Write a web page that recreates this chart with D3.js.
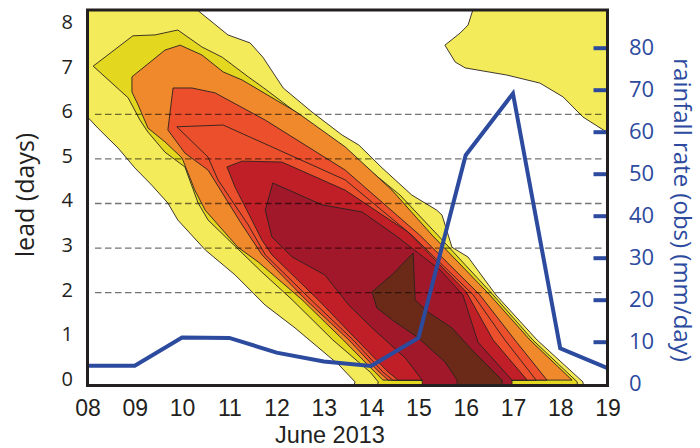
<!DOCTYPE html>
<html>
<head>
<meta charset="utf-8">
<script src="https://cdn.jsdelivr.net/npm/d3@7"></script>
<style>
  html, body { margin: 0; padding: 0; background: #fff; }
  svg { display: block; font-family: "Open Sans", sans-serif; }
</style>
</head>
<body>
<svg id="chart" width="700" height="448"></svg>
<script>
// ---- observed daily rainfall (mm/day) ----
const rainDays = [8, 9, 10, 11, 12, 13, 14, 15, 16, 17, 18, 19];
const rainfall = [4.3, 4.3, 11.0, 10.9, 7.4, 5.3, 4.2, 10.9, 54.4, 69.1, 8.4, 3.7];

// ---- axis ticks ----
const dayTicks  = [8, 9, 10, 11, 12, 13, 14, 15, 16, 17, 18, 19];
const dayLabels = ["08", "09", "10", "11", "12", "13", "14", "15", "16", "17", "18", "19"];
const leadTicks = [0, 1, 2, 3, 4, 5, 6, 7, 8];
const rainTicks = [0, 10, 20, 30, 40, 50, 60, 70, 80];
const gridLeads = [2, 3, 4, 5, 6];

// ---- contour regions of forecast skill, vertices as [day, lead] ----
const level1Band = [
  [7.9, 8.5], [10.3, 8.5], [10.32, 8.34], [10.97, 7.78], [11.44, 7.60], [11.71, 7.28],
  [12.14, 6.59], [12.75, 6.05], [13.38, 5.54], [13.74, 5.31], [14.23, 4.80], [14.86, 4.19],
  [15.39, 3.85], [15.50, 3.74], [15.71, 3.02], [16.05, 2.80], [16.64, 1.95], [17.51, 0.94],
  [18.48, 0.0], [18.5, -0.2], [13.6, -0.2], [13.66, 0.0], [13.32, 0.38], [12.39, 1.21],
  [11.76, 1.72], [11.12, 2.40], [10.49, 2.96], [9.91, 3.63], [9.70, 4.01], [9.36, 4.41],
  [9.00, 4.80], [8.65, 5.24], [8.22, 5.69], [8.0, 5.94], [7.9, 5.94]
];
const level1Corner = [
  [16.2, 8.5], [16.05, 8.00], [15.88, 7.82], [15.56, 7.55], [15.78, 7.17], [15.99, 7.04],
  [16.87, 6.88], [17.57, 6.70], [18.06, 6.39], [18.48, 5.94], [18.91, 5.65], [19.0, 5.60],
  [19.2, 5.55], [19.2, 8.5]
];
const level2 = [
  [8.12, 7.08], [8.96, 7.76], [9.43, 7.78], [9.91, 7.89], [10.42, 7.51], [10.85, 7.28],
  [11.40, 6.84], [11.73, 6.59], [13.13, 5.47], [14.61, 4.19], [15.41, 3.29], [16.58, 1.95],
  [17.42, 0.94], [18.36, 0.0], [18.36, -0.2], [14.11, -0.2], [14.15, 0.0], [13.98, 0.22],
  [13.19, 0.94], [12.33, 1.84], [11.69, 2.46], [11.27, 2.89], [10.55, 3.63], [10.34, 4.01],
  [10.06, 4.82], [9.64, 5.15], [9.28, 5.60], [9.11, 5.87], [8.86, 6.37]
];
const level3 = [
  [8.94, 6.84], [9.64, 7.44], [9.96, 7.55], [10.42, 7.33], [10.87, 6.95], [11.27, 6.77],
  [12.45, 6.03], [13.45, 5.27], [14.44, 4.30], [15.29, 3.29], [16.51, 1.95], [17.36, 0.94],
  [18.25, 0.04], [14.25, 0.04], [14.08, 0.22], [13.41, 0.94], [12.54, 1.84], [11.61, 2.69],
  [11.18, 3.02], [10.49, 3.85], [10.27, 4.30], [10.00, 5.02], [9.64, 5.38], [9.28, 5.69],
  [9.07, 6.21], [8.94, 6.50]
];
const level4 = [
  [9.81, 6.59], [10.21, 6.59], [10.70, 6.48], [11.76, 5.87], [13.45, 4.75], [15.03, 3.29],
  [16.30, 1.95], [17.04, 0.94], [17.72, 0.04], [14.36, 0.04], [14.17, 0.22], [13.53, 0.94],
  [12.62, 1.84], [11.69, 2.85], [11.23, 3.59], [10.55, 4.75], [10.06, 5.13], [9.70, 5.65]
];
const level4Inner = [
  [9.89, 5.72], [10.87, 5.76], [13.45, 4.53], [14.86, 3.29], [16.16, 1.95], [16.83, 0.94],
  [17.49, 0.04], [14.46, 0.04], [14.25, 0.22], [13.62, 0.94], [12.73, 1.84], [11.76, 2.85],
  [11.40, 3.52], [10.76, 4.53], [10.55, 5.04]
];
const level5 = [
  [10.95, 4.82], [11.27, 4.95], [12.11, 4.93], [13.45, 4.30], [14.78, 3.36], [16.01, 2.02],
  [16.58, 0.94], [17.30, 0.04], [14.57, 0.04], [14.36, 0.22], [13.70, 0.94], [12.88, 1.84],
  [11.90, 2.85], [11.69, 3.18], [11.40, 3.79], [11.12, 4.37]
];
const level6 = [
  [11.92, 4.46], [12.96, 3.97], [13.81, 3.81], [14.51, 3.29], [15.46, 2.51], [15.94, 1.95],
  [16.26, 0.89], [16.98, 0.04], [16.98, -0.2], [15.08, -0.2], [15.08, 0.04], [14.72, 0.54],
  [14.02, 1.21], [13.53, 1.72], [13.02, 2.40], [12.33, 2.80], [11.90, 3.25], [11.76, 3.85]
];
const level7 = [
  [14.89, 2.89], [14.93, 1.84], [15.20, 1.57], [15.71, 1.21], [16.13, 0.72], [16.77, 0.04],
  [16.77, -0.2], [15.82, -0.2], [15.82, 0.04], [15.56, 0.45], [14.97, 1.01], [14.51, 1.34],
  [14.12, 1.66], [14.02, 2.02], [14.44, 2.40]
];

// ---- layout ----
const svg = d3.select("#chart");
const plot = { left: 87.5, right: 607.5, top: 10, bottom: 385.5 };

const x = d3.scaleLinear().domain([8, 19]).range([plot.left, plot.right]);
const y = d3.scaleLinear().domain([0, 8]).range([381.9, 25.1]);
const rain = d3.scaleLinear().domain([0, 80]).range([383.7, 47.7]);

const ink = "#231f20";
const blue = "#2c4a9e";
const bottomFont = "Liberation Sans, Arial, sans-serif";

svg.append("defs").append("clipPath").attr("id", "plotClip")
  .append("rect")
  .attr("x", plot.left).attr("y", plot.top)
  .attr("width", plot.right - plot.left).attr("height", plot.bottom - plot.top);

// filled contour bands, outermost first
const bands = [
  { poly: level1Band,   fill: "#f4eb5b" },
  { poly: level1Corner, fill: "#f4eb5b" },
  { poly: level2,       fill: "#e3d71f" },
  { poly: level3,       fill: "#ef892c" },
  { poly: level4,       fill: "#ec4f2b" },
  { poly: level4Inner,  fill: "#ec4f2b" },
  { poly: level5,       fill: "#c01f27" },
  { poly: level6,       fill: "#a01829" },
  { poly: level7,       fill: "#6b2a18" }
];

const polyLine = d3.line().x(d => x(d[0])).y(d => y(d[1]));

svg.append("g").attr("clip-path", "url(#plotClip)")
  .selectAll("path").data(bands).join("path")
  .attr("d", d => polyLine(d.poly) + "Z")
  .attr("fill", d => d.fill)
  .attr("stroke", "#2a2220")
  .attr("stroke-width", 0.9)
  .attr("stroke-linejoin", "round");

// dashed lead gridlines
svg.append("g").selectAll("line").data(gridLeads).join("line")
  .attr("x1", 95).attr("x2", 604)
  .attr("y1", d => y(d)).attr("y2", d => y(d))
  .attr("stroke", "#000").attr("stroke-opacity", 0.55)
  .attr("stroke-width", 1.3)
  .attr("stroke-dasharray", "6.5,3.5");

// observed rainfall line
svg.append("path")
  .datum(rainDays.map((d, i) => [d, rainfall[i]]))
  .attr("d", d3.line().x(d => x(d[0])).y(d => rain(d[1])))
  .attr("fill", "none")
  .attr("stroke", blue)
  .attr("stroke-width", 4);

// right-hand rainfall axis
const rAxis = svg.append("g")
  .attr("transform", `translate(${plot.right},0)`)
  .call(d3.axisRight(rain).tickValues(rainTicks).tickSizeInner(-14).tickSizeOuter(0).tickPadding(21.5));
rAxis.select(".domain").remove();
rAxis.selectAll(".tick line")
  .attr("stroke", blue).attr("stroke-width", 4)
  .attr("display", d => d === 0 ? "none" : null);
rAxis.selectAll(".tick text")
  .attr("fill", blue).attr("font-size", 22)
  .attr("font-family", "Open Sans, sans-serif");

// frame
svg.append("rect")
  .attr("x", plot.left).attr("y", plot.top)
  .attr("width", plot.right - plot.left).attr("height", plot.bottom - plot.top)
  .attr("fill", "none").attr("stroke", ink).attr("stroke-width", 3);

// left lead axis
const lAxis = svg.append("g")
  .attr("transform", `translate(${plot.left},0)`)
  .call(d3.axisLeft(y).tickValues(leadTicks).tickSize(0).tickPadding(14.5));
lAxis.select(".domain").remove();
lAxis.selectAll(".tick text")
  .attr("fill", ink).attr("font-size", 20).attr("dy", "0.17em")
  .attr("font-family", "Open Sans, sans-serif");

// bottom date axis
const bAxis = svg.append("g")
  .attr("transform", `translate(0,${plot.bottom})`)
  .call(d3.axisBottom(x).tickValues(dayTicks).tickSize(0).tickPadding(14.2)
    .tickFormat((d, i) => dayLabels[i]));
bAxis.select(".domain").remove();
bAxis.selectAll(".tick text")
  .attr("fill", ink).attr("font-size", 23)
  .attr("font-family", bottomFont);

// axis titles
svg.append("text")
  .attr("x", 330).attr("y", 442.5)
  .attr("text-anchor", "middle")
  .attr("font-size", 23.5).attr("fill", ink)
  .attr("font-family", bottomFont)
  .text("June 2013");

svg.append("text")
  .attr("transform", "translate(34,195) rotate(-90)")
  .attr("text-anchor", "middle")
  .attr("font-size", 25).attr("fill", ink)
  .text("lead (days)");

svg.append("text")
  .attr("transform", "translate(674,210) rotate(90)")
  .attr("text-anchor", "middle")
  .attr("font-size", 24).attr("fill", blue)
  .text("rainfall rate (obs) (mm/day)");
</script>
</body>
</html>
